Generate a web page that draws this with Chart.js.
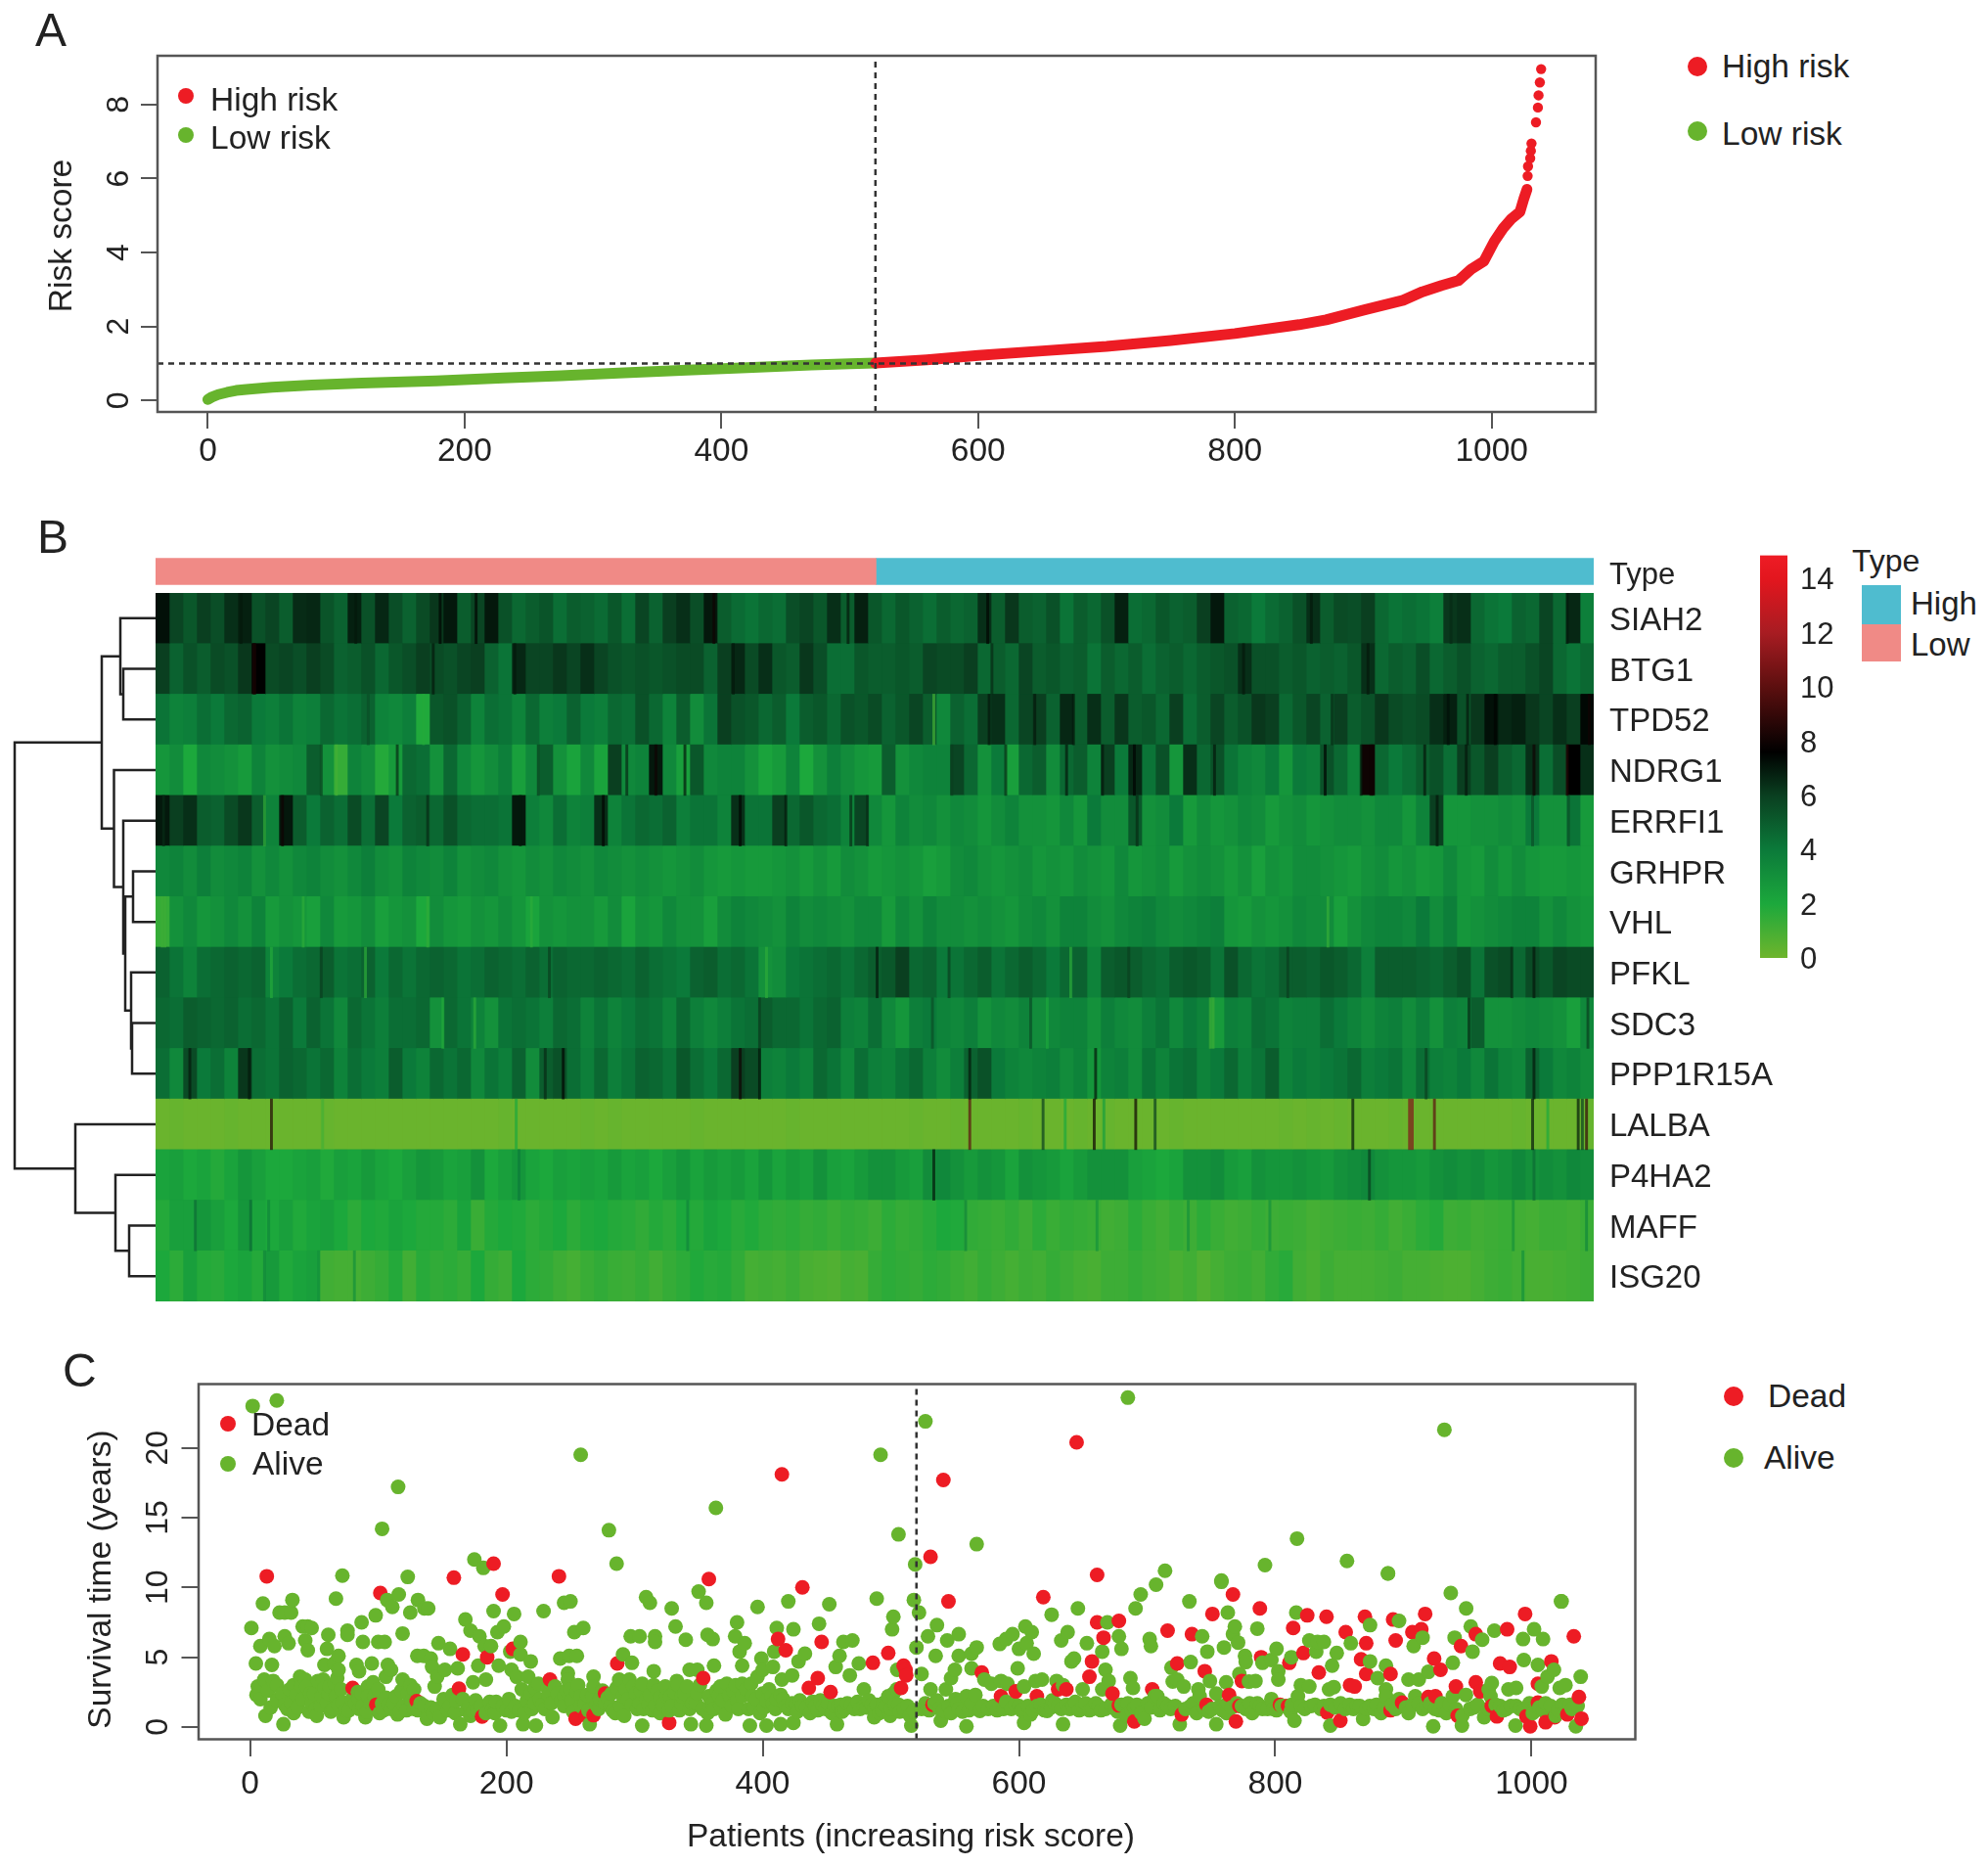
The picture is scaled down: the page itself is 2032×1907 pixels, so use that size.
<!DOCTYPE html>
<html lang="en">
<head>
<meta charset="utf-8">
<title>Risk score, gene heatmap and survival</title>
<script src="https://cdn.jsdelivr.net/npm/chart.js@4"></script>
<style>
  html, body { margin: 0; padding: 0; background: #fff; }
  #page { position: relative; width: 2032px; height: 1907px; overflow: hidden; font-family: "Liberation Sans", Arial, sans-serif; color: #222; }
  canvas { position: absolute; }
  .txt { position: absolute; white-space: nowrap; line-height: 1; }
  .dot { position: absolute; border-radius: 50%; }
</style>
</head>
<body>
<div id="page"></div>
<script>
// panel A: sorted risk score
const riskLowX  = [0,3,8,15,22,30,50,81,120,178,230,275,320,373,420,470,500,520];
const riskLowY  = [0.03,0.09,0.16,0.22,0.27,0.3,0.36,0.42,0.47,0.53,0.61,0.67,0.74,0.82,0.89,0.96,0.99,1.01];
const riskHighX = [520,560,600,650,700,750,800,850,871,901,931,946,961,974,984,994,1002,1009,1015,1022,1025,1027.5];
const riskHighY = [1.01,1.1,1.22,1.34,1.46,1.62,1.81,2.05,2.18,2.45,2.71,2.94,3.11,3.24,3.55,3.77,4.3,4.66,4.9,5.1,5.45,5.71];
const riskTailX = [1028,1028.3,1030,1030.5,1031,1034.5,1036,1036.5,1037.5,1038.5];
const riskTailY = [6.07,6.33,6.55,6.75,6.95,7.52,7.92,8.25,8.6,8.96];
const riskCutoff = 1;
const patientCutoff = 520;
const xTicks = [0,200,400,600,800,1000];
const riskTicks = [0,2,4,6,8];

// panel B: expression, one list per gene, each entry is a block of about 10 patients
const genes = ['SIAH2','BTG1','TPD52','NDRG1','ERRFI1','GRHPR','VHL','PFKL','SDC3','PPP1R15A','LALBA','P4HA2','MAFF','ISG20'];
const SIAH2 = [7.2,5.8,5.2,6,5.5,6.4,6.8,5.4,5.8,5,6.5,6.6,5.3,4.8,6.8,5.4,6.6,5.5,4.8,5.6,6.2,7,5,5.8,7,5.4,4.6,5,5.3,4.4,5,4.8,4.5,5.2,4.4,
  5.8,4.8,6,6.4,5.5,7,5,4.5,4.2,4.6,4.4,5.5,5.8,5.2,6.4,5,6.8,5.2,4.6,5.2,4.8,4.4,5,4.6,4.8,6.4,5,6.2,5,4.8,5.4,4.2,5,4.6,5.4,
  6.8,4.4,4.6,5.2,4.8,5,6,7,4.8,4.6,4,4.5,4.8,5.4,6.4,5,5.6,5.5,6,4.6,4.2,4.4,4.2,3.8,6.2,6.4,4.6,4.2,4,4.8,4.6,5.8,4.6,6.6,3.8];
const BTG1 = [6,4.8,5.4,5,5.6,5.4,6.2,7.6,5.6,5.8,5.5,6,5.6,4.8,5,5.4,4.6,5.2,5.5,6,5.6,5.4,5.8,6,4.8,4.2,6.6,5.8,5.8,6.2,5.8,6.4,5.8,5.4,5.2,
  5.4,5.2,5.4,5.6,5.6,4.8,6,6.6,5.6,6.4,5.2,5,6.2,5.5,4.4,4.4,5.2,5,5,5.2,5,5.8,5.6,5.6,6,4.6,5,4.6,5.8,5,5.2,4.8,5,4.2,5,
  4.6,5,4.4,4.8,5,4.6,5,5.2,5.4,6.4,5.4,5.4,5,5.2,4.8,5,4.8,5.2,6.4,4.6,5,4.8,5.5,4.6,5,5.4,4.8,4.6,5,5,5.4,5.8,4.6,4.2,4.6];
const TPD52 = [4.2,3.6,3.8,4.4,4,4.6,4.8,4,3.8,4.2,3.6,3.8,4.6,4.2,4.4,4.8,3.6,3.4,3.8,1.9,5.2,5.4,4.8,3.6,4.4,4.2,3.6,4.6,3.8,4,4.8,4,3.8,4.6,4.4,
  5.4,4.6,3.6,5,3.2,4.2,6,5.4,5.2,4.6,5,4,5,5.2,4.6,5.4,5.2,5.6,4.8,5.2,5.8,5,3.4,4.8,4.4,6,6.4,4.6,5.8,6,4.8,6.6,5,6.4,5,
  6.2,5,5.2,4.6,6,4.4,5,5.8,5,5.4,6.2,6,4.6,5.2,5.8,4.8,6,5,5.4,6.2,5.6,5.4,5.6,6.4,6.8,5.4,6.2,7.2,6.6,6.8,6.2,5.8,6.4,6,7.4];
const NDRG1 = [2.8,3.2,2,3.4,3.2,3,2.6,3.6,3,3.2,3.4,5,3,1.4,3.6,3.2,1.8,2.6,4.6,4.4,3,4.6,3.4,2.8,3.2,3.8,2.4,3.4,5,3,2.2,3.4,2.2,6,3.4,
  3.6,7,3.4,2.4,5.2,3.4,3.6,3.6,3,2.2,2.6,3.6,2,3,3.8,3.2,2.8,2.6,5,3,3.4,3.6,3.6,5.8,4.6,3,4,2.4,4.6,5,3.2,4.6,5,3.6,6,
  4,6.6,4.2,5.4,2.8,6.4,4.6,5.4,4.2,3.6,3.4,4,2.8,4,3.8,5.4,4.6,3.6,8,4.6,4,4.4,5,5.4,4.4,6,5.2,6,5,4.6,6.4,4.4,5.5,7.6,6.4];
const ERRFI1 = [7,6,6.4,5,4.8,5.6,6.2,5,3.6,7,5,4,4.8,4.4,5.6,4.4,5.8,4,4.8,5,4.6,5.4,4.6,4.4,4.4,4.2,7,3.8,3.4,4.4,3.6,3.8,6.4,3.6,4.2,
  4.6,4.4,4.8,3.8,4.2,4.2,3.6,6.4,4.2,4.2,6,4.6,5.2,4.6,4.4,3.6,5.8,3.4,2.8,3.6,3.2,3.4,3,3.4,3.2,2.8,3.2,3.6,3,3,2.8,3.4,2.8,4,3.2,
  3.2,5.2,3,3.2,4,2.6,3.2,2.8,3,3.4,3.2,2.6,3,3.2,2.8,3,3.2,3.2,3,3.4,3.4,2.8,3.6,6,2.8,2.8,3,3,3.2,3,4,3,3,4.2,2.6];
const GRHPR = [3.4,3.6,3.2,3.8,3.2,3.4,3.6,3,3.4,3,3.4,3.6,3.2,3,3.4,3.8,3.2,3,3.6,3.4,3.2,3.6,3,3.2,3.4,3,2.8,3.2,3,3.4,3.2,3,3.4,3.2,3,
  3.2,3,2.8,3,3.2,2.8,2.6,2.8,2.6,2.6,2.8,3,2.6,3,2.6,3.2,3,2.6,2.8,3,2.8,2.4,2.6,3.2,3.4,3,2.8,3,3.2,2.8,3,2.8,3.2,3,2.8,
  3.4,2.8,3,3.2,2.6,3,3.2,3,2.6,3,2.4,3,2.8,3.2,3.2,3,2.8,2.6,3,3.2,2.8,3,2.6,2.8,3.4,2.8,2.6,3.2,2.8,3.2,2.8,2.6,2.6,2.8,2.6];
const VHL = [1.4,3,3.4,2.8,3,3.4,3,3.6,2.6,3,2.8,2.4,3.4,2.6,2.8,3.2,2.4,2.8,3,2,3.2,2.8,2.6,3,2.8,3.2,2.8,2.2,3,2.8,3,3,2.6,3.2,2.2,
  3,2.8,3.4,3,3,2.4,3.2,3.6,3.4,3.2,3,3.6,3.2,3.4,3.2,3,3.4,3.4,2.6,3.4,3,3.6,3.2,3.2,3,3.2,3,2.8,3.2,3.4,3,3.6,3.6,3.2,3,
  3.4,3.6,3.8,3.4,3.2,3.4,3.6,3.8,2.8,2.6,3,2.8,3,3.4,3.2,3.2,2.4,3,3.4,3.6,3.6,3.4,4,3.2,3.8,2.8,3,3.2,3.4,3.6,3.6,3,3.4,3,2.8];
const PFKL = [4.8,4.2,3.6,4.4,4.6,4.8,4.6,4.8,3.6,4,4.4,4.6,5,4.2,4.4,4.8,4,4.6,4.2,4.6,4.8,4.6,4.2,4.4,4.8,4.6,4.4,4.8,4.4,4.8,4.6,4.6,4.8,4.6,4.4,
  4.8,4.4,4.2,4,4.8,5,4.4,4.6,4.2,3,3.2,4,4.2,4.4,4.6,4.2,4.6,5,5.2,6,4.6,4.8,4,4.2,4.6,5,4.2,4.6,5,4.6,4,4.6,4.8,3.6,5,
  5.2,5,4.6,4.4,5,5.2,5,4.2,5.4,4.6,4.2,4.4,5,5,4.8,5.2,5,4.6,3.8,5,5,5,4.8,4.6,5,5.4,4.2,5.4,5.6,4.6,5.6,5.2,5.8,5.6,5.6];
const SDC3 = [4.6,4.4,5,4.8,4.6,4.8,4.4,4.6,4.2,4.8,4,4.8,4.2,3.4,4.6,4.2,3.8,4.4,4.4,4.6,3,4.6,4.2,3.6,3,4.2,4.4,4.2,3.8,4.6,4.4,3.6,4.2,3.6,4,
  4.4,4.2,3.6,4.6,3.8,3.4,3.8,4.2,4.4,5,4.6,4.6,4.2,4.6,4.8,3.8,3.6,4.4,3.4,2.8,3.8,4,3.6,3.4,3.8,3,3.4,3.2,3.6,3.2,3.4,3.6,3.6,3,3.8,
  3.4,3.2,3.8,4.2,3.4,4,3.6,2.6,3.8,3.6,4.4,4.2,3.6,3.8,3.8,4.4,4,3.6,3.2,3.6,3.8,3.2,3.8,3,3.8,3.6,5,3,3,3.2,3.4,3.2,3,2.4,3.4];
const PPP1R15A = [4.4,3.4,5.6,4,4.4,3.6,6.2,4.4,4.2,4.8,4.6,4.2,4.6,3.6,4.4,4,3.8,5,4,3.6,4.6,4.2,4.6,3.4,4.2,3.8,4.8,3.2,5,5.4,4.4,3.8,4.6,3.8,4.2,
  4.8,4.6,4.2,5.2,4.4,4,4.6,6,5.6,3.8,3.6,4,3.6,4.6,4.2,3.4,4.4,3.8,3.6,4.2,4.6,3.8,3.2,3.8,4.8,5.4,4,3.6,3.4,3.6,3.8,3.2,3.6,2.8,3.6,
  3.8,3.2,4.2,3.6,4.2,4.4,3.6,4,4.6,3.8,4.2,5,3.6,4,3.8,4,4.2,4.6,3.8,4,4.2,3.4,4.4,3.8,3.6,4,3.4,4.2,3.6,3.4,4.8,4,3.4,3.6,3.2];
const LALBA = [0.1,0.2,0.1,0.1,0.1,0.2,0.1,0.1,0.1,0.1,0.1,0.1,0.2,0.1,0.1,0.1,0.1,0.1,0.1,0.1,0.1,0.1,0.1,0.1,0.1,0.2,0.1,0.1,0.1,0.1,0.1,0.2,0.1,0.2,0.1,
  0.1,0.1,0.1,0.1,0.2,0.1,0.1,0.1,0.1,0.1,0.1,0.2,0.1,0.1,0.1,0.1,0.1,0.1,0.1,0.1,0.2,0.1,0.1,0.2,0.1,0.1,0.1,0.1,0.2,0.1,0.1,0.1,0.2,0.1,0.2,
  0.1,0.1,0.1,0.1,0.2,0.1,0.1,0.1,0.1,0.1,0.1,0.1,0.2,0.1,0.2,0.1,0.2,0.1,0.1,0.1,0.2,0.1,0.1,0.1,0.1,0.1,0.1,0.1,0.1,0.2,0.1,0.1,0.1,0.1,0.2];
const P4HA2 = [2.2,2.4,2,2.2,1.8,2.2,2.8,2.4,2,2,2.2,2.4,1.9,2.4,2.2,2.6,2.2,2,2.4,2.8,2.6,2.2,2.4,3,2,2.4,2.8,2.2,2,2.4,2.2,2.4,2.2,2.6,2.2,
  2.4,2,2.4,2.8,2.2,2.6,2.4,2.6,2.2,2.8,2.2,2.6,2.4,3,2.4,2.2,2.6,3,3,2.6,2.4,3.2,3.4,3,2.6,3,2.8,2.2,3,2.8,2.6,2.2,2.6,3,3,
  3,2.4,2.2,2,2.2,3,3,3.2,2.6,2.4,3,2.8,2.8,3,2.8,2.6,3,3.2,3.4,3,2.8,2.8,2.6,3,3.2,3,3.2,2.8,3,3.4,3,3.2,3,3.4,3.2];
const MAFF = [1.8,2.4,2.4,2.8,2.4,2,2.8,2.2,2,2.4,1.9,2.2,2.4,2,1.6,2,1.9,2.2,2,1.8,1.8,1.6,2.2,1.3,1.8,2,1.9,1.6,1.8,2,1.6,1.9,2,1.8,1.7,
  1.5,1.8,1.6,2,1.8,2.2,2,1.7,1.9,1.6,1.5,1.6,1.4,1.5,1.3,1.5,1.4,1.2,1.6,1.4,1.5,1.7,2,1.9,1.5,1.4,1.3,1.5,1.2,1.6,1.3,1.5,1.4,1.3,1.1,
  1.2,1.6,1.3,1.1,1.4,1.2,1.6,1.3,1.1,1.2,1.4,1.2,1.3,1.2,1,1.1,1.2,1.3,1.2,1.4,1.1,1.3,1.6,1.8,1.2,1.3,1.1,1.2,1.3,1.1,1,1.2,1.2,1.1,1.3];
const ISG20 = [2,1.6,2.4,1.8,1.7,2,2.2,1.8,2.6,1.9,2.2,2.4,1.1,1,1,1.2,1.4,1.8,1.1,1.7,1.5,1.6,1.4,2,1.4,1.2,2,1.6,1.5,1.2,1,1.3,1.5,1.3,1.2,
  1.4,1.1,1.4,1.6,1.9,1.7,1.8,1.5,1,1.1,1,1.2,0.9,0.8,0.7,1,0.9,1.4,1.6,1.5,1.4,1.6,1.5,1.3,1.1,1.4,1.2,1,1.2,1.1,1.4,1.2,1,0.9,1.2,
  1.2,1.4,1.2,1.1,0.9,1.1,0.7,1,1.2,1.3,1.1,1.5,1.7,1.1,0.9,1.2,1,1,1,1.1,1.2,1,1,0.9,0.8,0.8,1,1.2,1.3,1.1,0.9,0.9,1,1.1,1.2];
const geneRows = [SIAH2,BTG1,TPD52,NDRG1,ERRFI1,GRHPR,VHL,PFKL,SDC3,PPP1R15A,LALBA,P4HA2,MAFF,ISG20];

// single patients that stand out of their block: gene, patient, expression
const singlePatients = [
  ['SIAH2',61,7],['SIAH2',144,7],['SIAH2',205,7.5],['SIAH2',231,7.5],['SIAH2',403,8],['SIAH2',500,7],['SIAH2',601,7.5],['SIAH2',835,7],['SIAH2',936,6.5],['SIAH2',1020,7],
  ['BTG1',70,8.2],['BTG1',71,8.2],['BTG1',200,7],['BTG1',259,7],['BTG1',417,7],['BTG1',604,6.5],['BTG1',786,7],['BTG1',876,7],
  ['TPD52',153,5.5],['TPD52',193,1.8],['TPD52',562,1],['TPD52',602,7],['TPD52',635,7],['TPD52',663,7],['TPD52',850,6.5],['TPD52',934,7.2],['TPD52',948,7],['TPD52',968,7.5],['TPD52',1036,8],
  ['NDRG1',119,6],['NDRG1',130,1],['NDRG1',174,6.5],['NDRG1',276,6],['NDRG1',340,6.5],['NDRG1',361,8],['NDRG1',382,7],['NDRG1',575,6],['NDRG1',614,6.5],['NDRG1',658,7],['NDRG1',684,7],['NDRG1',707,7.5],['NDRG1',765,7],['NDRG1',845,7.5],['NDRG1',871,7],['NDRG1',878,8],['NDRG1',879.5,8],['NDRG1',917,7],['NDRG1',947,7],['NDRG1',996,8],['NDRG1',1020,8.5],
  ['ERRFI1',5,6.5],['ERRFI1',78,1.5],['ERRFI1',91,8],['ERRFI1',196,6.5],['ERRFI1',263,7],['ERRFI1',323,7.5],['ERRFI1',422,7.5],['ERRFI1',455,7],['ERRFI1',502,6.5],['ERRFI1',514,6.5],['ERRFI1',709,6.5],['ERRFI1',926,7],['ERRFI1',995,5.5],['ERRFI1',1021,5.5],
  ['VHL',4,1.2],['VHL',6,1.2],['VHL',106,1.6],['VHL',196,1.5],['VHL',271,1.6],['VHL',847,1.4],
  ['PFKL',83,1.8],['PFKL',119,6],['PFKL',151,1.6],['PFKL',284,6],['PFKL',441,1.6],['PFKL',521,7],['PFKL',573,6],['PFKL',661,1.6],['PFKL',703,6],['PFKL',818,6],['PFKL',980,6.5],['PFKL',996,7],
  ['SDC3',207,1.8],['SDC3',230,1.6],['SDC3',436,6],['SDC3',561,5.5],['SDC3',632,5.5],['SDC3',644,2],['SDC3',762,1.2],['SDC3',764,1.2],['SDC3',949,6.5],['SDC3',1035,6],
  ['PPP1R15A',24,7],['PPP1R15A',67,7],['PPP1R15A',281,6.5],['PPP1R15A',294,7.5],['PPP1R15A',422,8],['PPP1R15A',436,7.5],['PPP1R15A',588,7],['PPP1R15A',679,7],['PPP1R15A',918,6],['PPP1R15A',996,7],
  ['LALBA',83,8.5],['LALBA',120,1],['LALBA',260,2],['LALBA',588,10],['LALBA',641,6],['LALBA',657,2],['LALBA',678,8],['LALBA',685,2.5],['LALBA',708,8],['LALBA',722,6],['LALBA',865,7],['LALBA',906,11],['LALBA',908,11],['LALBA',924,10],['LALBA',995,7],['LALBA',1006,2],['LALBA',1028,7],['LALBA',1031,6],['LALBA',1034,9],
  ['P4HA2',262,4],['P4HA2',562,7],['P4HA2',877,6],['P4HA2',996,4.5],
  ['MAFF',28,4.5],['MAFF',68,4.5],['MAFF',81,3.5],['MAFF',384,3.5],['MAFF',585,3.5],['MAFF',680,3],['MAFF',746,3],['MAFF',805,3],['MAFF',981,3],['MAFF',1034,3.5],
  ['ISG20',78,3.5],['ISG20',117,3],['ISG20',143,3],['ISG20',988,3]
];

// dendrogram as in R hclust: negative = row number, positive = earlier merge
const dendroMerges = [[-2,-3],[-1,1],[-6,-7],[-9,-10],[-8,4],[3,5],[-5,6],[-4,7],[2,8],[-13,-14],[-12,10],[-11,11],[9,12]];
const dendroHeights = [33,36,23,24,25,31,33,42.5,55,27,41,82,144];

const exprStops = [0,2,4,6,7.6,10,12,14,14.86];
const exprColors = ['#6eb52c','#1ca83c','#0b7a3a','#0a3f20','#000000','#5c0f0f','#a81c22','#e3161e','#ee1c25'];
const exprTicks = [0,2,4,6,8,10,12,14];
const typeSplit = [0,521,1040];

// panel C: survival, patient rank and years
const deadPoints = [[13,10.8],[101.6,9.6],[159,10.7],[190,11.7],[241,10.8],[197,9.5],[166,5.2],[185,5],[205,5.6],[80,2.8],[163,2.75],[98.5,1.6],[130,1.85],[181,0.75],[234,3.4],[254,0.6],[268,0.85],[262,0.85],[277,2.4],[286.5,4.55],[327,0.3],
  [415,18.1],[541,17.7],[645,20.4],[531,12.2],[358,10.6],[431,10],[545,9],
  [412,6.3],[418,5.5],[446,6.1],[353.6,3.5],[443,3.5],[436,2.8],[453,2.5],[486,4.6],[498,5.3],[511.5,4.1],[512,3.7],[510,4.4],[508,2.8],[532.6,1.6],[619,9.3],[661,10.9],[661,7.5],[678,7.6],[666,6.4],[657,4.7],[655,3.6],[673,2.4],[678,1.55],[690,0.4],[704,2.7],[571,3.9],[586,2.2],[597.5,2.55],[614,2.2],[630.6,2.7],[637,2.7],
  [767,9.5],[751,8.1],[788,8.5],[825,8],[840,7.9],[870,7.9],[892,7.7],[917,8.1],[995,8.1],[716,6.9],[735,6.65],[814,7.1],[855,6.8],[871,6],[894,6.2],[907,6.8],[914,7],[981,7],[1033,6.5],[945,5.8],[956.5,6.65],[822,5.3],[867,4.85],[789,5],[811,4.6],[723.5,4.55],[745,4],[834,3.9],[871,3.8],[890,3.8],[924,4.9],[929,4.1],[975.5,4.55],[983,4.3],[1015.5,4.7],[774,3.3],[862,2.9],[858.4,3],[925,2.2],[919.5,2.15],[1005,3.1],[1037,2.15],[1039,0.6],[956.5,3.2],[941,2.9],[764,2.3],[746.4,1.6],[772,1.5],[727,0.9],[769.3,0.4],[803.7,1.6],[810,1.5],[840.6,1.04],[850.8,0.45],[890,1.2],[899,1.75],[969,1.5],[973,0.76],[996,0.76],[999,0.05],[1005,1.75],[1011,0.34],[1028,0.9],[1018,0.7],[960,2.55],[942.4,0.8]];
const alivePoints = [[2,23],[20.8,23.4],[258,19.5],[492,19.5],[527,21.9],[115.5,17.2],[363.5,15.7],[103,14.2],[280,14.1],[506,13.8],[567,13.1],[519,11.65],[175,12],[182,11.4],[286,11.7],[685,23.6],[932,21.3],[817,13.5],[856,11.9],[792,11.6],[888,11],[714,11.2],[707,10.2],[758,10.5],[937,9.6],[1023.5,9],[695,9.5],
  [72,10.85],[123,10.75],[10,8.85],[33,9.1],[27,8.2],[23,8.2],[32,8.2],[67,9.2],[116,9.5],[107,9.1],[111,8.6],[131,9.1],[136,8.5],[139,8.5],[125,8.2],[98,8],[87,7.5],[1,7.1],[41,7.2],[45,7.2],[48,7.1],[168,7.7],[172,6.9],[179,6.5],[190,8.3],[206,8.1],[198,7.2],[193,6.8],[229,8.3],[245,8.9],[250,9],[253,6.8],[260,7.1],[309,9.3],[312,8.9],[329,8.5],[332,7.2],[297,6.5],[304,6.5],[316,6.5],[316,6.1],[76,6.9],[76,6.6],[119,6.7],[61,6.6],[88,6.1],[100,6.1],[105,6.1],[15,6.3],[8,5.8],[19,5.8],[27,6.5],[30,6],[43,6.2],[45,5.5],[60,5.6],[4.5,4.55],[17,4.45],[69,5.1],[65.5,4.55],[58,4.45],[69,4.1],[68,3.5],[83,4.45],[85,4],[95,4.55],[107.5,4.45],[110,4.1],[106,3.6],[130.5,5.1],[135.5,5.1],[141,4.9],[147,6],[156,5.6],[152,4.1],[162,4.2],[142,4.3],[146,3.6],[144,2.9],[178,4.4],[174,3.2],[184,3.4],[194,4.4],[188,5.8],[183,5.8],[211,6.1],[203,5.4],[211,5.2],[219,4.7],[204,4.1],[208,3.6],[242,4.9],[249,5.1],[255,5.1],[291,5.2],[298,4.6],[315,4],[248,3.85],[268,3.6],
  [5,2.3],[6,2.9],[11,3.4],[21,3],[12,0.8],[16,1.4],[21,1.9],[26,0.2],[29,1.3],[34,1],[32,1.75],[36,2.3],[34,3],[39,3.6],[44,2.9],[41,2],[48,1.75],[52,0.8],[55,1.5],[50,2.4],[53,3.3],[58,2.8],[60,1.75],[65,1.3],[73,0.7],[72,1.75],[79.5,2],[85,1.3],[90,0.7],[92,2.9],[92,2.2],[87,2.4],[85,2],[97,2.2],[101,1],[110,1.3],[114,2.2],[115,0.9],[119,3.4],[123,2.4],[128,2.7],[120,1.5],[128,1.3],[136,1.5],[138,0.6],[143,1],[148,0.7],[151,2],[156,1.5],[161,1.9],[166,2],[171,1.5],[164,0.2],[172,0.8],[184,1],[189,1.3],[195,0.1],[197,1.5],[202,2],[207,1.5],[213,0.2],[214,1],[220,1.3],[223,0.1],[226,2],[230,1.3],[236,0.7],[217,3.6],[212,2.7],[225,3.1],[240,2.4],[245,2.2],[248,3.4],[250,2.7],[245,1.5],[258,2.2],[258,1.5],[265,0.2],[268,2.9],[263,2.3],[273,2],[272,1.3],[281,1.5],[282,2.4],[288,3.4],[296,3.4],[291,2.2],[292,0.8],[298,1.6],[306,3.1],[306,0.1],[307,1.3],[312,2.3],[315,3],[316,1.5],[324,2.9],[328,2.2],[329,1.5],[333,3.3],[67,2.2],[62,2.9],[75,1.2],[103,1.7],[177,1.2],[176,1.9],[192,1.8],[222,1.7],[233,2.3],[252,1.1],[277,1.7],[285,1],[301,2.4],[304,1.7],[320,2.1],[320,1],[337,2.2],
  [350,9.7],[356,8.9],[396,8.6],[420,9],[452,8.8],[489,9.2],[518,9.1],[522,8.2],[502,7.9],[501,7],[380,7.5],[411,7.1],[424,7],[444,7.4],[357,6.6],[361,6.3],[340,6.25],[378.5,6.5],[386,6],[382,5.4],[384,4.4],[463,6.1],[470,6.2],[460,5.1],[457,4.3],[475,4.55],[468,3.7],[433,5.25],[428,4.7],[409,5.4],[399,4.9],[400,4.1],[408,4.3],[362,4.4],[343,4.1],[349,4.1],[423,3.7],[415,3.4],[535,5.1],[524,3.8],[520,5.7],[505,4.1],[529,6.5],[536,7.3],[544,6.2],[553,6.65],[567,5.7],[553,5.1],[563,5.25],[550,4.1],[563,4.2],[547,3.5],[585,5.95],[590,6.3],[595,6.65],[605,7.2],[610,6.8],[600,5.6],[611.5,5.25],[606,6],[599,4.2],[625.5,8.05],[646,8.5],[633,6.2],[638,6.8],[653,6],[643,4.9],[641,4.7],[665,5.4],[667.5,4.1],[669,7.5],[678,6.5],[680,5.6],[691,8.5],[687,3.5],[689,2.8],[702,6.3],[703,5.8],
  [334,3],[339,2.4],[336.5,1.7],[343,1.3],[344,0.2],[349,2.4],[348,1.7],[356,0.1],[357,1],[361,1.7],[366,2.3],[367,2.9],[372,3.1],[371,0.9],[376,1.5],[377,2.6],[384,3.1],[384,2.2],[390,0.1],[389,1.3],[391,3.1],[396,3.6],[395,2],[398,1],[403,0.1],[405,2.7],[408,1.7],[414,0.2],[410,1.3],[418,1.5],[424,0.3],[423,1.7],[431,1.5],[437,1],[441,1.5],[449,1.3],[454,1],[458,0.2],[459,1.5],[466,1.7],[471.5,1.3],[479,2.7],[479,1.5],[487,1.3],[487,0.7],[494,1.7],[498,2.2],[499.5,0.8],[504.6,2.7],[510,1.3],[516,0.1],[515,0.8],[524,1.3],[531,2.7],[538,1.3],[539,0.45],[543,2.7],[547,1],[550.5,2],[559,2.2],[566,2.3],[559,0.05],[569.5,1.15],[573,3.4],[578.5,3.1],[576,1.3],[586,3.3],[591,3.1],[585,1.5],[594,1.3],[600,1.5],[604,2.9],[604,0.3],[609,0.9],[613,3.3],[618,3.4],[614,1.5],[622,1.15],[629.4,3.3],[634.4,3],[630.6,1.5],[634.4,0.2],[639.5,1.3],[649.7,2.7],[649.7,1.5],[657.3,1.3],[665,2.7],[670,3.3],[667.5,1.3],[679,0.1],[675,1.3],[685,1.7],[684,0.8],[695.5,1],[698,0.6],[700.6,1.7],[706,2.2],[362,1.3],[367,1.5],[380,1.9],[400,2.4],[414,2.3],[427,1.1],[445,1.9],[462,1.1],[474,1.8],[483,1.9],[491,1],[503,1.6],[507,1.1],[534,1.7],[553,1.3],[563,1.7],[590,1.8],[626,1.9],[644,1.8],[660,1.7],[690,1.4],
  [758,10.4],[888,11],[733,9],[763,8.2],[949,8.5],[1023,9],[816.4,8.2],[896.6,7.6],[874,7.3],[768.5,7.2],[786,7.05],[743,6.5],[767,6.65],[771,6.05],[747,5.4],[760,5.7],[776.4,5.1],[777,4.65],[801,5.6],[797,4.8],[790,4.6],[812.6,5],[826.6,6.2],[833,6.1],[838,6.1],[832,5.4],[848,5.3],[844.4,4.4],[859,6],[874,4.7],[886.4,4.4],[915,6.4],[908,5.8],[938.6,4.6],[919.5,3.95],[912,3.4],[904,3.4],[880,3.5],[940,6.4],[952.6,7.2],[961.5,6.25],[954,5.4],[971,6.9],[993.4,6.3],[1002,7],[1009,6.3],[994,4.8],[1005,4.45],[1017.5,4.1],[1012.5,3.6],[1008,2.9],[1022,2.8],[1026.5,3],[1038.4,3.6],[969,3.15],[988,2.8],[982,2.7],[966.6,2.7],[802.4,4],[802.4,3.4],[772,3.8],[784.6,3.3],[779.5,3.25],[761.7,3.2],[749,3.3],[734,4.65],[719,4.25],[723.5,3.4],[720,3.26],[728.6,2.9],[740,2.7],[820,3],[826.6,2.9],[845.7,2.86],[842,2.7],[886.4,2.7],
  [708,2.2],[713,1.7],[718.4,1.3],[725.5,0.2],[734,1.5],[738.7,1],[741,2.2],[754,0.2],[754,2.4],[757,1.5],[763,1.7],[762,1],[777,1.3],[782,1],[790,1.3],[797,2],[798.6,1.3],[805,1.5],[815,0.45],[817.7,2.2],[820,1.5],[828,1.5],[835.5,1.3],[843,0.1],[851,1.7],[854.6,1.3],[863.5,1.5],[868.6,0.57],[873.7,1.5],[882.6,1],[886.4,2.2],[896.6,2],[904,1],[909.3,2.2],[912,1.7],[923.3,0.05],[924.6,1.3],[933.5,1],[938.6,2.2],[946,0.8],[945.7,0.1],[948.8,2.3],[963,0.7],[968,2.2],[975.5,1.5],[980.6,1.3],[987.5,0.1],[988,1.5],[998.4,1.7],[1001,1],[1011,1.7],[1018.8,0.8],[1026.5,1.5],[1031.5,1.3],[1034.6,0.05],[726,1.2],[748,1.1],[770,1.7],[786,1.7],[812,1.1],[843,1.6],[858,1.6],[879,1.6],[891,1.6],[918,1.5],[930,1.7],[955,1.4],[994,1.2],[1006,1.4],[1036,1.5],
  [8,2],[14,2.6],[18,3.3],[25,2.4],[27,1.6],[31,2.7],[37,1.4],[40,2.9],[43,3.4],[46,1.1],[47,2.4],[51,1.3],[56,2.2],[57,3.4],[61,2.4],[63,1.1],[66,3.1],[69,1.6],[71,2.7],[77,1.2],[82,1.7],[84,2.5],[88,1.5],[91,1.1],[94,1.7],[96,3.2],[100,2.7],[104,1.2],[106,2.1],[108,1.6],[112,1.7],[117,1.1],[118,2.6],[122,1.2],[125,3],[126,1.9],[131,1.2],[133,1.7],[141,1.4],[146,1.3],[154,1.2],[158,2.3],[160,1],[169,1.2],[174,1.1],[180,1.5],[187,1.8],[191,1],[200,1.2],[204,1.1],[210,1.2],[216,1.9],[219,2.4],[222,2.8],[228,1.6],[232,2.8],[235,1.7],[238,2.9],[243,1.9],[247,2.6],[251,1.9],[255,2.5],[256,3],[261,1.7],[264,1.2],[267,2.2],[270,1.6],[275,2.6],[279,2.1],[283,1.2],[286,2.8],[289,1.5],[293,2.7],[295,2],[299,2.9],[302,1.3],[305,2.6],[309,2],[311,1.6],[314,1.2],[318,2.6],[322,1.6],[325,2.2],[327,1.2],[331,2.5],[335,1.2],
  [341,2.9],[345,1.7],[351,3],[353,1.3],[358,2.2],[359,1.5],[364,2.6],[369,1.9],[374,2.3],[379,3],[381,1.3],[387,2.7],[392,2.2],[393,1.4],[401,1.4],[403,1.9],[407,2.2],[411,2],[416,2],[420,1.3],[426,1.6],[429,1.9],[434,1.4],[439,1.8],[443,1.2],[447,1.5],[451,1.7],[456,1.5],[461,1.6],[464,1.3],[469,1.6],[476,1.3],[481,1.4],[485,1.6],[489,1.6],[493,1.2],[496,1.5],[500,1.3],[502,2.4],[506,1.6],[513,1.5],[518,1.2],
  [527,1.7],[530,1.2],[536,1.9],[541,1.2],[545,1.5],[552,1.7],[556,1.1],[561,1.2],[572,1.5],[580,1.5],[583,1.2],[588,1.3],[597,1.6],[602,1.2],[607,1.5],[611,1.2],[617,1.6],[620,1.2],[625,1.4],[628,1.7],[633,1.3],[637,1.6],[642,1.5],[647,1.2],[652,1.7],[655,1.2],[662,1.5],[664,1.2],[672,1.6],[677,1.1],[680,1.6],[688,1.2],[692,1.6],[703,1.4],[710,1.2],[716,1.5],[722,1.5],[730,1.3],[736,1.7],[744,1.4],[751,1.3],[759,1.2],[766,1.4],[774,1.5],[780,1.7],[788,1.5],[794,1.3],[801,1.2],[808,1.5],[813,1.6],[823,1.3],[831,1.6],[838,1.5],[847,1.4],[861,1.3],[866,1.5],[871,1.3],[877,1.3],[885,1.4],[894,1.3],[902,1.4],[907,1.6],[915,1.3],[921,1.7],[928,1.2],[936,1.6],[941,1.3],[952,1.3],[958,1.6],[966,1.3],[972,1.6],[978,1.2],[984,1.5],[991,1.3],[1003,1.5],[1009,1.2],[1015,1.5],[1021,1.2],[1024,1.6],[1030,1.6]];
const survivalTicks = [0,5,10,15,20];

const RED = '#ed1c24';
const GREEN = '#67b42d';
const AXIS = '#555555';
const FONT = '"Liberation Sans", Arial, sans-serif';
const page = document.getElementById('page');

function addCanvas(left, top, width, height) {
  const c = document.createElement('canvas');
  c.width = width; c.height = height;
  c.style.left = left + 'px'; c.style.top = top + 'px';
  c.style.width = width + 'px'; c.style.height = height + 'px';
  page.appendChild(c);
  return c;
}
function addText(text, x, y, size, rotate) {
  const d = document.createElement('div');
  d.className = 'txt';
  d.textContent = text;
  d.style.left = x + 'px'; d.style.top = y + 'px'; d.style.fontSize = size + 'px';
  d.style.transform = rotate ? 'translate(-50%,-50%) rotate(-90deg)' : 'translateY(-50%)';
  page.appendChild(d);
}
function addDot(x, y, r, color) {
  const d = document.createElement('div');
  d.className = 'dot';
  d.style.left = (x - r) + 'px'; d.style.top = (y - r) + 'px';
  d.style.width = d.style.height = (2 * r) + 'px';
  d.style.background = color;
  page.appendChild(d);
}
function exprColor(v, alpha) {
  let i = 0;
  while (i < exprStops.length - 2 && v > exprStops[i + 1]) i++;
  const t = Math.min(1, (v - exprStops[i]) / (exprStops[i + 1] - exprStops[i]));
  const ch = (h, k) => parseInt(h.substr(k, 2), 16);
  const a = exprColors[i], b = exprColors[i + 1];
  const mix = k => Math.round(ch(a, k) + (ch(b, k) - ch(a, k)) * t);
  return `rgba(${mix(1)},${mix(3)},${mix(5)},${alpha || 1})`;
}
const zip = (xs, ys) => xs.map((x, i) => ({x, y: ys[i]}));
// tick labels otherwise push the plot area in
function noPadding(s) { s.paddingTop = s.paddingBottom = s.paddingLeft = s.paddingRight = 0; }

// box round the plot, R style
const boxPlugin = {
  id: 'box',
  afterDraw(chart) {
    const a = chart.chartArea, ctx = chart.ctx;
    ctx.save();
    ctx.strokeStyle = AXIS; ctx.lineWidth = 2.5;
    ctx.strokeRect(a.left, a.top, a.right - a.left, a.bottom - a.top);
    ctx.restore();
  }
};
// fills the hairlines between heatmap rows
const underlayPlugin = {
  id: 'underlay',
  beforeDatasetsDraw(chart) {
    const a = chart.chartArea, ctx = chart.ctx;
    ctx.save();
    ctx.fillStyle = '#0b7a3a';
    ctx.fillRect(a.left, a.top, a.right - a.left, a.bottom - a.top);
    ctx.restore();
  }
};

function scatterScales(o) {
  return {
    x: {
      type: 'linear', min: o.xMin, max: o.xMax,
      afterBuildTicks: s => { s.ticks = xTicks.map(value => ({value})); },
      afterFit: s => { s.height = o.xHeight; noPadding(s); },
      grid: {drawOnChartArea: false, tickLength: o.tick, tickColor: AXIS, lineWidth: 2},
      border: {display: false},
      ticks: {color: '#222', font: {family: FONT, size: 33.5}, padding: o.xPad, maxRotation: 0, autoSkip: false, callback: v => String(v)}
    },
    y: {
      type: 'linear', min: o.yMin, max: o.yMax,
      afterBuildTicks: s => { s.ticks = o.yTicks.map(value => ({value})); },
      afterFit: s => { s.width = o.yWidth; noPadding(s); },
      grid: {drawOnChartArea: false, tickLength: o.tick, tickColor: AXIS, lineWidth: 2},
      border: {display: false},
      ticks: {color: '#222', font: {family: FONT, size: 32}, padding: o.yPad, minRotation: 90, maxRotation: 90, crossAlign: 'center', autoSkip: false, callback: v => String(v)}
    }
  };
}
const quiet = {legend: {display: false}, tooltip: {enabled: false}, title: {display: false}};
function refLine(data) {
  return {data, showLine: true, borderColor: '#333', borderWidth: 2.5, borderDash: [6, 5], pointRadius: 0};
}

// ---- panel A
new Chart(addCanvas(0, 40, 1700, 450), {
  type: 'scatter',
  plugins: [boxPlugin],
  data: {datasets: [
    refLine([{x: -39.2, y: riskCutoff}, {x: 1081, y: riskCutoff}]),
    refLine([{x: patientCutoff, y: -0.31}, {x: patientCutoff, y: 9.32}]),
    {data: zip(riskTailX, riskTailY), backgroundColor: RED, pointRadius: 5.2, pointBorderWidth: 0, showLine: false},
    {data: zip(riskHighX, riskHighY), borderColor: RED, borderWidth: 11, borderCapStyle: 'round', borderJoinStyle: 'round', showLine: true, pointRadius: 0},
    {data: zip(riskLowX, riskLowY), borderColor: GREEN, borderWidth: 11, borderCapStyle: 'round', borderJoinStyle: 'round', showLine: true, pointRadius: 0}
  ]},
  options: {
    responsive: false, animation: false,
    layout: {padding: {top: 17, right: 69}},
    plugins: quiet,
    scales: scatterScales({xMin: -39.2, xMax: 1081, yMin: -0.31, yMax: 9.32, yTicks: riskTicks, xHeight: 69, yWidth: 161, tick: 17, yPad: 13, xPad: 4})
  }
});

// ---- panel B: annotation strip
new Chart(addCanvas(0, 560, 1840, 45), {
  type: 'bar',
  data: {labels: ['Type'], datasets: [
    {data: [[typeSplit[0], typeSplit[1]]], backgroundColor: '#f08a86'},
    {data: [[typeSplit[1], typeSplit[2]]], backgroundColor: '#4fbccf'}
  ]},
  options: {
    indexAxis: 'y', responsive: false, animation: false,
    layout: {padding: {left: 159, top: 10.3, bottom: 7.2}},
    plugins: quiet,
    datasets: {bar: {grouped: false, categoryPercentage: 1, barPercentage: 1, borderWidth: 0}},
    scales: {
      x: {display: false, min: 0, max: 1040},
      y: {position: 'right', afterFit: s => { s.width = 211; noPadding(s); }, grid: {display: false, drawTicks: false}, border: {display: false},
          ticks: {color: '#222', font: {family: FONT, size: 31}, padding: 16, labelOffset: 4}}
    }
  }
});

// ---- panel B: heatmap, one dataset per block, single patients on top
const blockWidth = 1040 / SIAH2.length;
const heatSets = [];
singlePatients.forEach(([gene, patient, value]) => {
  const row = genes.indexOf(gene);
  heatSets.push({
    data: genes.map((g, i) => i === row ? [patient, patient + 1.6] : null),
    backgroundColor: exprColor(value, 0.7)
  });
});
SIAH2.forEach((_, j) => {
  heatSets.push({
    data: genes.map(() => [j * blockWidth, (j + 1) * blockWidth]),
    backgroundColor: geneRows.map(r => exprColor(r[j]))
  });
});
new Chart(addCanvas(0, 605, 1840, 735), {
  type: 'bar',
  plugins: [underlayPlugin],
  data: {labels: genes, datasets: heatSets},
  options: {
    indexAxis: 'y', responsive: false, animation: false,
    layout: {padding: {left: 159, top: 1, bottom: 10}},
    plugins: quiet,
    datasets: {bar: {grouped: false, categoryPercentage: 1, barPercentage: 1, borderWidth: 0}},
    scales: {
      x: {display: false, min: 0, max: 1040},
      y: {position: 'right', afterFit: s => { s.width = 211; noPadding(s); }, grid: {display: false, drawTicks: false}, border: {display: false},
          ticks: {color: '#222', font: {family: FONT, size: 33}, padding: 16, labelOffset: 3, autoSkip: false}}
    }
  }
});

// ---- panel B: dendrogram
const nodes = [];
const nodeOf = id => id < 0 ? {h: 0, y: -id - 0.5} : nodes[id - 1];
const dendroSets = dendroMerges.map((m, k) => {
  const a = nodeOf(m[0]), b = nodeOf(m[1]), h = dendroHeights[k];
  nodes.push({h, y: (a.y + b.y) / 2});
  return {
    data: [{x: a.h, y: a.y}, {x: h, y: a.y}, {x: h, y: b.y}, {x: b.h, y: b.y}],
    showLine: true, borderColor: '#222', borderWidth: 2.5, pointRadius: 0, borderJoinStyle: 'miter', tension: 0
  };
});
new Chart(addCanvas(0, 605, 159, 730), {
  type: 'scatter',
  data: {datasets: dendroSets},
  options: {
    responsive: false, animation: false,
    layout: {padding: {top: 1, bottom: 5}},
    plugins: quiet,
    scales: {
      x: {display: false, min: 0, max: 159, reverse: true},
      y: {display: false, min: 0, max: 14, reverse: true}
    }
  }
});

// ---- panel B: colour key
new Chart(addCanvas(1780, 555, 110, 440), {
  type: 'bar',
  data: {labels: [''], datasets: [{
    data: [[0, 14.86]],
    backgroundColor(c) {
      const s = c.chart.scales.y;
      if (!c.chart.chartArea || !s) return exprColors[0];
      const bottom = s.getPixelForValue(0), top = s.getPixelForValue(14.86);
      if (!isFinite(bottom) || !isFinite(top)) return exprColors[0];
      const g = c.chart.ctx.createLinearGradient(0, bottom, 0, top);
      exprStops.forEach((v, i) => g.addColorStop(v / 14.86, exprColors[i]));
      return g;
    }
  }]},
  options: {
    responsive: false, animation: false,
    layout: {padding: {left: 19, top: 12.6, bottom: 16}},
    plugins: quiet,
    datasets: {bar: {categoryPercentage: 1, barPercentage: 1, borderWidth: 0}},
    scales: {
      x: {display: false},
      y: {
        position: 'right', min: 0, max: 14.86,
        afterBuildTicks: s => { s.ticks = exprTicks.map(value => ({value})); },
        afterFit: s => { s.width = 63; noPadding(s); },
        grid: {display: false, drawTicks: false}, border: {display: false},
        ticks: {color: '#222', font: {family: FONT, size: 31}, padding: 13, labelOffset: 2.5, autoSkip: false, callback: v => String(v)}
      }
    }
  }
});

// ---- panel C: points in rank order so overlaps fall as they do in R
const survival = deadPoints.map(p => ({x: p[0], y: p[1], dead: true}))
  .concat(alivePoints.map(p => ({x: p[0], y: p[1], dead: false})))
  .sort((a, b) => a.x - b.x);
new Chart(addCanvas(0, 1390, 1750, 510), {
  type: 'scatter',
  plugins: [boxPlugin],
  data: {datasets: [
    refLine([{x: patientCutoff, y: -0.88}, {x: patientCutoff, y: 24.57}]),
    {data: survival, pointRadius: 7.5, pointBorderWidth: 0, backgroundColor: c => c.raw && c.raw.dead ? RED : GREEN}
  ]},
  options: {
    responsive: false, animation: false,
    layout: {padding: {top: 24.5, right: 78.5}},
    plugins: quiet,
    scales: scatterScales({xMin: -40.2, xMax: 1081, yMin: -0.88, yMax: 24.57, yTicks: survivalTicks, xHeight: 122.5, yWidth: 203, tick: 17.5, yPad: 6, xPad: 9})
  }
});

// ---- text and legends
addText('A', 36, 31, 48);
addText('B', 38, 549, 48);
addText('C', 64, 1401, 48);
addText('Risk score', 62, 241, 33.5, true);
addText('Survival time (years)', 102, 1614, 33.5, true);
addText('Patients (increasing risk score)', 702, 1876, 33.5);

addDot(190, 98, 8, RED);   addText('High risk', 215, 102, 33.5);
addDot(190, 138, 8, GREEN); addText('Low risk', 215, 141, 33.5);
addDot(1735, 67.5, 10, RED);  addText('High risk', 1760, 68, 33.5);
addDot(1735, 134, 10, GREEN); addText('Low risk', 1760, 137, 33.5);

addDot(233, 1455, 8, RED);   addText('Dead', 257, 1456, 33.5);
addDot(233, 1495.5, 8, GREEN); addText('Alive', 258, 1496, 33.5);
addDot(1772, 1427, 10, RED);  addText('Dead', 1807, 1427, 33.5);
addDot(1772, 1490, 10, GREEN); addText('Alive', 1803, 1490, 33.5);

addText('Type', 1893, 573, 32);
const swatchHigh = document.createElement('div');
swatchHigh.style.cssText = 'position:absolute;left:1903px;top:598px;width:40px;height:39.5px;background:#4fbccf';
page.appendChild(swatchHigh);
const swatchLow = document.createElement('div');
swatchLow.style.cssText = 'position:absolute;left:1903px;top:637.5px;width:40px;height:38.5px;background:#f08a86';
page.appendChild(swatchLow);
addText('High', 1953, 616, 33);
addText('Low', 1953, 658, 33);
</script>
</body>
</html>
